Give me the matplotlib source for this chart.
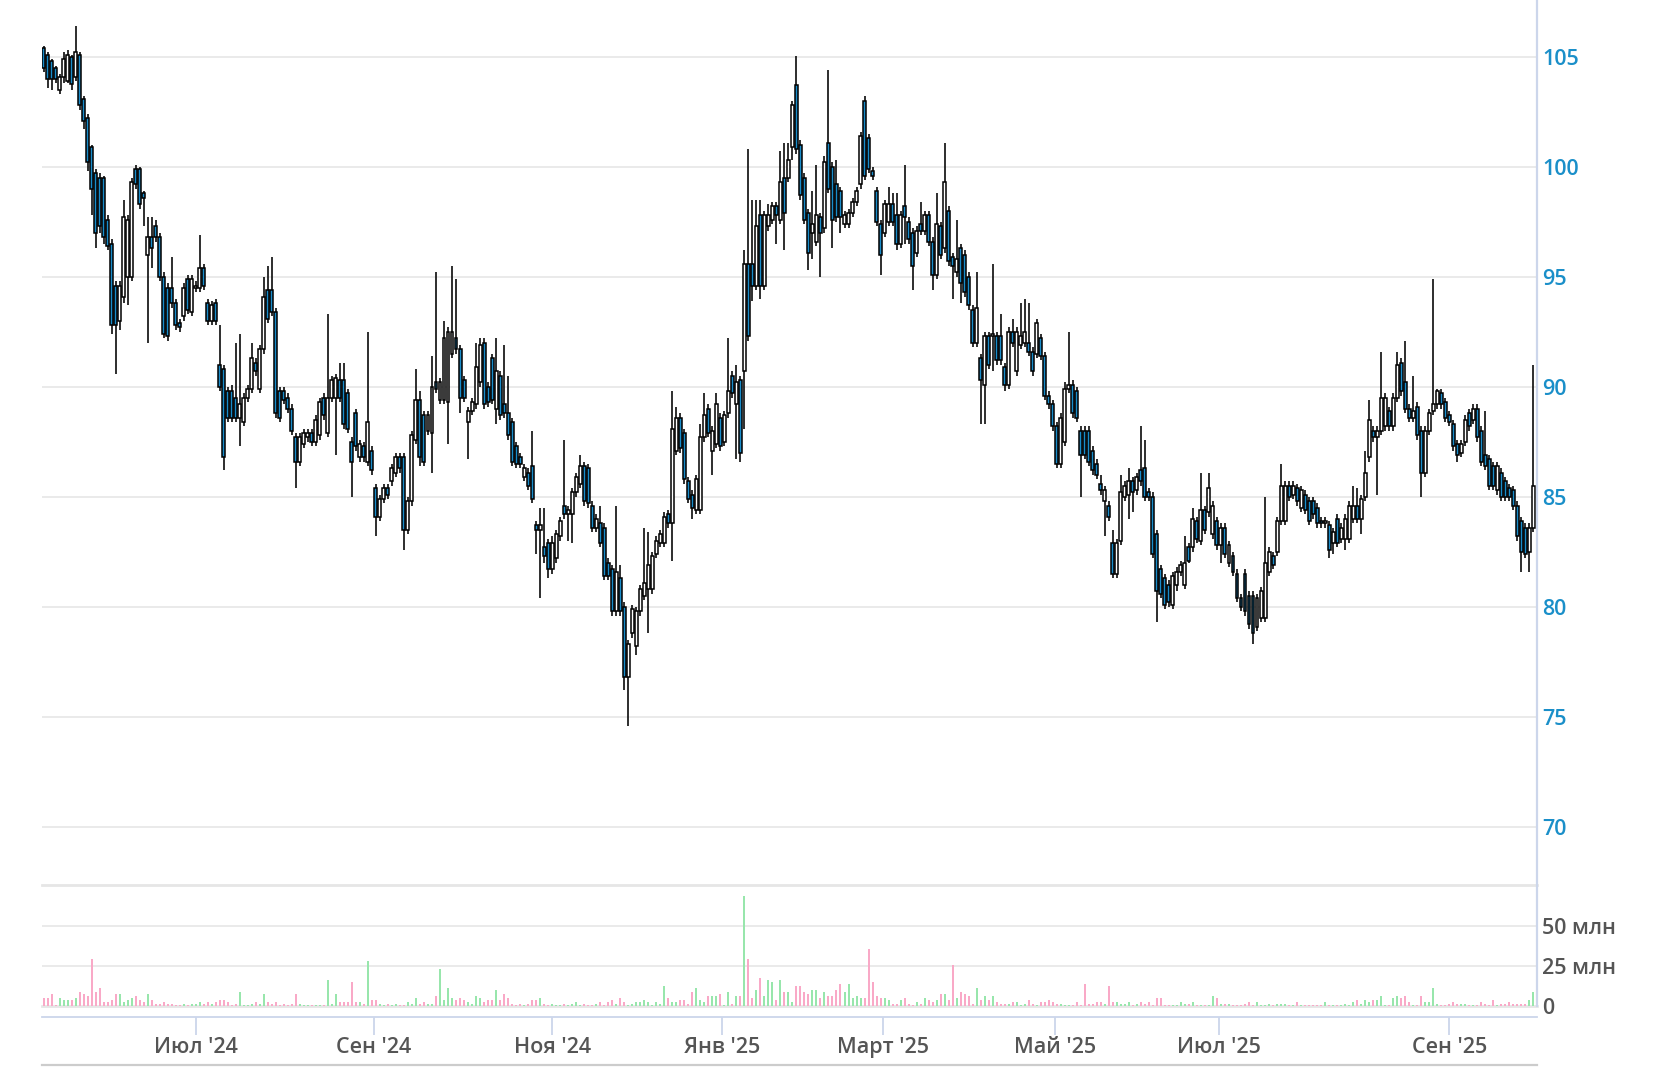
import matplotlib
matplotlib.use("Agg")
import matplotlib.pyplot as plt
from matplotlib.lines import Line2D
import numpy as np

# ---------------- data (one candle per session) ----------------
opens = [
    105.4,105.1,104.8,104.5,103.5,104.1,103.9,105.0,104.1,105.1,
    103.1,102.2,100.9,99.7,99.5,99.5,97.6,96.5,94.6,93.0,
    94.1,95.0,95.0,99.9,99.9,98.8,96.0,96.8,97.3,96.8,
    95.0,94.5,94.5,93.8,92.9,93.2,94.9,93.4,94.5,94.5,
    95.4,93.8,93.0,93.8,91.0,90.8,89.8,89.8,89.5,88.6,
    88.4,89.5,89.9,91.1,89.9,91.7,94.4,94.4,93.4,89.8,
    89.8,89.5,89.0,87.7,86.6,87.4,87.7,87.9,87.5,87.8,
    89.5,87.9,89.5,89.5,90.3,90.3,89.7,87.5,88.8,86.8,
    87.3,86.6,87.1,85.4,84.1,84.9,85.4,85.7,86.1,86.8,
    86.8,83.5,84.8,87.6,89.4,88.7,88.0,87.9,90.2,89.4,
    89.4,89.3,91.5,92.2,91.7,90.3,88.4,88.9,89.2,90.2,
    92.0,90.0,91.3,89.0,90.5,89.2,88.8,88.4,87.3,86.8,
    85.9,86.1,86.4,83.7,83.5,82.7,82.9,81.7,82.2,83.2,
    84.6,84.2,84.2,85.2,85.6,86.4,86.3,84.6,83.6,83.8,
    83.6,82.0,81.7,79.8,81.3,80.0,76.8,78.8,78.2,79.8,
    80.5,80.8,80.8,82.4,82.9,82.9,84.2,83.8,87.1,88.6,
    87.9,85.7,85.1,84.4,84.4,87.7,89.0,87.1,87.4,88.6,
    87.5,88.8,90.5,89.2,90.3,90.7,95.6,95.6,94.6,97.8,
    94.6,97.3,97.6,98.2,97.6,99.5,99.5,100.9,103.7,101.0,
    99.5,97.9,97.0,96.6,97.7,97.2,101.1,100.0,99.2,98.9,
    97.4,97.4,97.9,98.4,99.2,103.0,101.3,99.8,98.9,97.4,
    97.0,97.5,98.3,97.8,96.5,98.2,97.5,97.0,96.1,97.4,
    97.1,97.8,96.6,95.1,97.3,96.3,98.0,95.9,95.2,96.3,
    96.0,95.0,93.5,92.0,91.3,90.1,92.3,92.3,92.3,92.3,
    90.9,90.1,92.5,90.7,91.9,92.0,92.0,91.6,91.5,92.2,
    91.4,89.6,89.2,88.2,86.5,87.5,89.9,90.1,89.8,88.0,
    88.0,88.0,87.1,86.5,85.6,84.8,84.6,82.9,81.5,83.0,
    85.0,85.1,85.7,85.3,86.2,86.3,85.2,85.0,83.3,81.7,
    81.3,81.0,80.1,81.0,81.6,81.0,82.7,82.7,83.9,83.0,
    84.4,84.3,83.3,83.9,82.8,83.6,82.0,82.3,81.5,80.4,
    81.5,80.5,80.5,79.1,79.5,79.5,81.6,82.3,82.5,83.9,
    83.9,85.5,85.1,85.4,84.5,85.1,84.8,84.8,84.5,83.9,
    83.8,83.7,82.9,84.0,83.1,83.1,83.1,84.0,84.6,84.0,
    85.0,86.8,88.0,87.7,88.0,88.2,88.9,88.2,89.5,91.1,
    90.2,89.0,88.6,89.1,88.0,86.1,88.0,88.9,89.2,89.7,
    89.3,88.7,88.3,87.4,87.0,87.5,88.8,88.5,89.0,88.0,
    86.9,86.7,86.4,85.3,86.1,85.7,85.4,85.3,84.6,83.9,
    83.6,82.5,83.6,
]
highs = [
    105.5,105.2,104.9,104.6,104.2,105.2,105.3,105.1,106.4,105.2,
    103.2,102.4,101.0,99.9,99.7,99.6,97.8,96.7,94.8,94.8,
    98.5,97.8,99.5,100.1,100.0,98.9,97.7,97.7,97.6,97.0,
    95.2,94.7,95.9,94.0,93.1,94.7,95.1,95.1,94.8,96.9,
    95.6,94.0,93.9,94.0,92.8,91.0,90.0,90.1,92.0,92.4,
    89.7,90.1,92.0,91.3,91.9,95.0,95.5,95.9,93.6,90.0,
    90.0,89.7,89.2,87.9,87.9,88.1,88.1,88.1,88.7,89.5,
    89.7,93.3,90.5,90.6,91.1,91.1,89.9,87.7,89.0,87.6,
    87.5,92.5,87.3,85.6,85.1,85.6,85.6,86.5,87.0,87.0,
    87.0,85.0,88.0,90.8,89.8,88.9,88.9,91.4,95.2,90.4,
    93.0,92.7,95.5,94.9,91.9,90.5,89.1,89.5,92.0,92.2,
    92.2,90.2,91.5,92.2,90.7,91.9,90.5,88.6,87.5,87.0,
    86.5,86.3,88.0,83.9,84.5,84.5,83.1,83.2,83.5,84.1,
    87.6,84.6,85.4,86.1,86.9,86.6,86.5,84.8,84.2,84.6,
    83.8,82.2,81.9,84.6,81.9,80.2,78.5,80.1,80.0,81.0,
    83.6,83.4,82.5,83.2,83.5,84.3,84.4,89.8,89.1,88.8,
    88.1,85.9,85.3,86.0,88.3,89.7,89.2,88.2,89.7,88.8,
    88.9,92.2,90.7,91.0,90.5,96.2,100.8,98.5,98.5,98.5,
    98.0,98.3,98.4,98.4,100.7,101.1,101.1,103.0,105.05,101.2,
    99.7,98.1,98.9,100.1,97.9,100.5,104.4,100.2,100.3,99.1,
    98.0,98.1,98.6,99.1,101.6,103.2,101.5,100.0,99.1,97.6,
    98.5,99.1,98.8,98.8,98.0,100.1,97.7,97.2,97.3,98.4,
    98.0,98.0,96.8,98.8,97.5,101.1,98.2,96.1,97.6,96.5,
    96.2,95.2,93.7,95.2,91.5,92.5,92.5,95.6,92.5,93.3,
    91.1,92.7,93.1,92.7,93.8,94.0,93.8,91.8,93.1,92.4,
    91.6,89.8,89.4,88.4,88.8,90.2,92.5,90.3,90.0,88.2,
    88.2,88.2,87.3,86.7,86.0,85.5,84.8,83.5,83.1,86.0,
    85.7,86.3,85.9,86.1,88.2,87.6,85.4,85.2,83.5,81.9,
    81.5,81.2,81.6,81.8,82.1,83.2,82.9,84.5,84.1,86.1,
    84.6,86.1,84.8,84.1,83.8,83.8,83.0,82.5,81.7,80.6,
    81.7,80.7,80.7,80.6,80.9,85.0,82.7,82.5,84.1,86.5,
    85.7,85.7,85.7,85.6,85.5,85.3,85.0,85.0,84.7,84.1,
    84.1,83.9,83.6,84.2,83.8,84.2,84.8,85.5,85.4,85.1,
    87.1,89.4,88.2,88.2,91.6,89.7,89.1,89.7,91.6,91.3,
    92.1,89.2,90.5,89.3,88.2,88.2,89.0,94.9,89.9,89.9,
    89.5,88.9,88.5,87.6,87.6,88.7,89.0,89.2,89.2,88.2,
    88.9,86.9,86.6,86.6,86.3,85.9,85.6,85.5,84.8,84.1,
    83.8,83.8,91.0,
]
lows = [
    104.3,103.6,103.5,103.8,103.3,103.8,103.8,103.5,103.9,102.6,
    101.7,99.8,97.8,96.3,97.0,96.5,96.2,92.4,90.6,92.6,
    93.8,93.7,94.8,99.0,98.1,97.3,92.0,95.4,96.6,94.8,
    92.2,92.1,93.6,92.6,92.5,93.0,93.3,93.2,94.3,94.3,
    94.4,92.8,92.8,92.8,89.8,86.2,88.4,88.4,88.4,87.3,
    88.2,89.3,89.7,90.5,89.7,91.5,92.9,93.2,88.6,88.4,
    89.2,88.8,87.8,85.4,86.4,87.2,87.5,87.3,87.3,87.6,
    88.5,87.7,89.3,86.9,89.3,88.1,87.9,85.0,87.1,86.6,
    86.6,86.4,86.0,83.2,83.9,84.7,84.9,85.5,85.9,86.1,
    82.6,83.3,84.6,87.4,86.4,86.4,87.8,86.1,89.7,89.2,
    89.2,87.4,91.3,91.5,88.8,89.3,86.7,88.7,89.0,90.0,
    89.0,89.1,89.2,88.3,88.5,88.6,87.6,86.4,86.3,86.3,
    85.7,85.3,84.7,82.4,80.4,82.0,81.3,81.5,82.0,83.0,
    84.0,83.0,82.9,85.0,85.4,84.6,84.5,83.4,83.4,82.7,
    81.2,81.2,79.6,79.6,79.6,76.2,74.6,78.6,77.8,79.6,
    80.3,78.8,80.6,82.2,82.7,82.7,83.6,82.1,86.9,87.0,
    85.6,84.7,84.0,84.2,84.2,87.5,87.7,86.0,87.2,87.1,
    87.3,88.6,89.5,86.7,86.6,88.1,92.1,93.9,94.4,94.0,
    94.4,97.1,97.4,96.5,97.4,96.2,99.3,100.3,100.6,98.5,
    97.4,95.3,95.8,96.4,95.0,97.0,98.8,96.3,97.5,97.0,
    97.2,97.2,97.7,98.2,99.0,99.4,99.7,99.4,97.3,95.1,
    96.8,97.3,97.3,96.2,96.3,96.5,96.5,94.4,95.9,96.9,
    96.9,96.4,94.4,94.9,95.8,96.1,95.5,94.0,95.0,93.8,
    94.1,93.5,91.8,91.8,88.3,88.3,90.8,90.7,91.0,91.0,
    89.8,89.9,91.8,90.5,91.7,91.8,91.4,90.5,91.3,91.2,
    89.4,89.0,88.0,86.3,86.3,87.3,89.7,88.6,88.4,85.0,
    86.7,86.4,86.0,85.8,85.1,83.2,83.9,81.3,81.3,82.8,
    84.8,84.0,84.3,85.1,85.5,84.8,84.8,82.2,79.3,80.4,
    79.9,80.0,79.9,80.7,81.4,80.8,82.0,82.5,82.9,82.8,
    83.3,84.1,83.1,82.6,82.0,82.2,81.8,81.4,80.2,79.8,
    79.6,79.0,78.3,78.9,79.3,79.3,81.4,81.7,82.3,83.7,
    83.7,84.8,84.9,84.6,84.3,84.2,83.7,84.0,83.6,83.6,
    83.6,82.2,82.4,82.7,82.9,82.6,82.9,83.8,83.8,83.3,
    84.8,86.6,87.5,85.1,87.8,88.0,88.0,88.0,89.3,89.6,
    88.8,88.4,88.4,87.6,85.0,85.9,87.8,88.7,89.0,89.0,
    88.4,88.2,87.1,86.6,86.8,87.3,88.0,88.3,87.5,86.4,
    86.2,85.3,85.3,85.1,84.8,84.8,84.8,84.4,83.0,81.6,
    82.2,81.6,83.4,
]
closes = [
    104.5,104.0,104.0,104.0,104.1,104.9,105.1,103.75,105.2,102.8,
    102.1,100.2,99.0,97.0,97.3,96.8,96.4,92.8,92.8,94.6,
    97.7,97.6,99.3,99.2,98.3,98.6,96.8,96.3,96.8,95.0,
    92.4,92.3,93.8,92.8,92.7,94.5,93.5,94.9,94.6,95.4,
    94.6,93.0,93.7,93.0,90.0,86.8,88.6,88.6,88.6,89.2,
    89.5,89.9,91.3,90.7,91.7,94.1,93.1,93.4,88.8,88.6,
    89.4,89.0,88.0,86.6,87.7,87.9,87.9,87.5,88.5,89.3,
    88.7,89.5,90.3,90.4,89.5,88.3,88.1,86.6,87.3,87.4,
    86.8,88.4,86.2,84.1,84.9,85.4,85.1,86.3,86.8,86.3,
    83.5,84.8,87.8,89.4,86.8,86.6,88.7,90.0,89.9,90.2,
    92.2,92.5,92.5,91.7,89.5,89.5,88.9,89.3,90.9,91.9,
    89.2,89.3,89.4,90.7,88.7,88.8,87.8,86.6,86.5,86.5,
    86.3,85.5,84.9,83.5,83.7,82.3,81.7,82.9,83.3,83.9,
    84.2,84.4,85.2,85.9,86.4,84.8,84.7,83.6,84.0,82.9,
    81.4,81.4,79.8,81.6,79.8,76.8,78.3,79.9,79.8,80.8,
    81.1,81.9,82.3,83.0,83.3,84.1,83.8,88.1,88.6,87.2,
    85.8,84.9,84.5,85.8,87.7,88.7,87.9,88.0,89.2,87.3,
    88.7,89.8,89.7,90.2,87.0,95.6,92.3,94.6,97.3,94.6,
    97.8,97.8,98.2,97.8,99.3,97.9,100.3,102.8,100.8,98.7,
    97.6,96.1,97.4,97.8,97.0,100.2,99.0,97.6,97.7,97.7,
    97.8,97.9,98.4,98.9,101.4,99.6,99.9,99.6,97.5,96.0,
    98.3,98.3,97.5,96.5,97.8,97.7,96.7,95.5,97.1,97.1,
    97.8,96.6,95.1,97.4,96.0,99.3,95.7,95.5,95.8,94.7,
    94.3,93.7,92.0,93.6,90.3,92.3,91.0,92.4,91.2,91.2,
    90.1,92.5,92.0,92.5,92.3,92.5,91.6,90.7,92.9,91.4,
    89.6,89.2,88.2,86.5,88.6,89.9,90.1,88.8,88.6,86.9,
    86.9,86.6,86.2,86.0,85.3,85.3,84.1,81.5,82.9,85.2,
    85.5,85.7,85.2,85.9,85.7,85.0,85.0,82.4,80.7,80.6,
    80.1,80.2,81.4,81.6,81.9,82.0,82.1,84.0,83.1,84.4,
    83.5,85.4,84.6,82.8,83.6,82.4,82.8,81.6,80.4,80.0,
    79.8,79.2,78.8,80.4,80.7,82.0,82.5,81.9,83.9,85.5,
    85.5,85.0,85.5,84.8,85.3,84.4,83.9,84.2,83.8,83.8,
    83.9,82.6,83.4,82.9,83.6,84.0,84.6,84.6,84.0,84.9,
    86.1,88.5,87.7,88.0,89.5,89.5,88.2,89.5,91.0,89.8,
    89.0,88.6,88.9,87.8,86.1,88.0,88.8,89.2,89.8,89.2,
    88.6,88.4,87.3,86.9,87.4,88.5,88.2,89.0,87.7,86.6,
    86.4,85.5,85.5,86.4,85.0,85.0,85.0,84.6,83.2,82.5,
    82.4,83.6,85.5,
]
# volume, millions of shares
volumes = [
    4.9,4.9,7.6,0.4,4.9,3.8,3.8,3.8,4.9,8.9,
    7.6,6.4,29.2,8.9,11.4,2.5,2.5,3.8,7.6,7.6,
    2.5,3.8,5.0,6.4,3.8,2.5,7.6,3.8,1.3,1.3,
    2.5,1.3,1.3,0.4,0.4,1.3,0.4,1.3,1.3,2.5,
    1.3,2.5,1.3,2.5,3.8,3.8,2.5,0.4,1.3,8.9,
    0.4,0.4,1.3,2.5,1.3,7.6,2.5,1.3,2.5,0.4,
    1.3,0.4,1.3,7.6,1.3,0.4,0.4,0.4,0.4,0.4,
    0.4,16.5,1.3,7.6,2.5,2.5,2.5,15.3,2.5,2.5,
    1.3,28.0,3.8,3.8,1.3,0.4,1.3,0.4,1.3,0.4,
    0.4,2.5,1.3,5.0,1.3,2.5,1.3,1.3,6.4,22.9,
    3.8,11.4,5.0,3.8,5.0,3.8,2.5,1.3,6.4,5.0,
    2.5,3.8,3.8,10.2,3.8,7.6,5.0,1.3,0.4,1.3,
    0.4,1.3,3.8,3.8,5.0,1.3,0.4,1.3,0.4,0.4,
    1.3,0.4,1.3,2.5,0.4,1.3,0.4,0.4,1.3,2.5,
    0.4,2.5,3.8,1.3,5.0,2.5,0.4,1.3,2.5,2.5,
    3.8,2.5,0.4,2.5,1.3,12.7,5.0,2.5,2.5,3.8,
    3.8,1.3,8.9,11.4,3.8,2.5,6.4,6.4,6.4,7.6,
    0.4,8.9,1.3,6.4,6.4,68.6,29.2,5.0,10.2,17.8,
    6.4,16.5,15.3,3.8,16.5,8.9,8.9,2.5,12.7,12.7,
    8.9,7.6,10.2,10.2,5.0,8.9,6.4,6.4,10.2,14.0,
    8.9,14.0,5.0,6.4,5.0,5.0,35.6,15.3,6.4,5.0,
    5.0,3.8,1.3,1.3,3.8,5.0,1.3,0.4,2.5,1.3,
    5.0,3.8,2.5,3.8,7.6,7.6,3.8,25.4,5.0,8.9,
    7.6,6.4,1.3,11.4,3.8,6.4,3.8,6.4,2.5,1.3,
    1.3,1.3,2.5,2.5,0.4,1.3,3.8,1.3,0.4,2.5,
    2.5,3.8,2.5,1.3,1.3,0.4,0.4,0.4,2.5,0.4,
    14.0,1.3,1.3,2.5,2.5,1.3,12.7,2.5,2.5,1.3,
    1.3,2.5,0.4,1.3,2.5,1.3,2.5,0.4,5.0,5.0,
    0.4,0.4,0.4,0.4,2.5,1.3,1.3,2.5,0.4,0.4,
    0.4,0.4,6.4,5.0,1.3,1.3,1.3,0.4,0.4,0.4,
    1.3,2.5,0.4,2.5,0.4,0.4,1.3,0.4,1.3,1.3,
    1.3,0.4,0.4,2.5,0.4,0.4,0.4,0.4,0.4,0.4,
    2.5,0.4,0.4,0.4,0.4,1.3,0.4,2.5,3.8,1.3,
    3.8,2.5,3.8,3.8,6.4,0.4,0.4,5.0,6.4,5.0,
    6.4,2.5,0.4,0.4,6.4,2.5,2.5,11.4,1.3,0.4,
    0.4,1.3,2.5,1.3,1.3,1.3,0.4,0.4,0.4,2.5,
    1.3,0.4,3.8,0.4,1.3,1.3,2.5,1.3,1.3,1.3,
    1.3,3.8,8.8,
]
month_labels = ["Июл '24", "Сен '24", "Ноя '24", "Янв '25", "Март '25", "Май '25", "Июл '25", "Сен '25"]
month_pos = [38, 82.5, 127, 169.5, 209.5, 252.5, 293.5, 351]   # session index of 1st day
price_ticks = [70, 75, 80, 85, 90, 95, 100, 105]
vol_ticks = [0, 25, 50]
vol_tick_labels = ["0", "25 млн", "50 млн"]

# ---------------- styling ----------------
W, H = 1663, 1067
FONT = ["Open Sans", "DejaVu Sans"]
plt.rcParams["font.family"] = FONT
GRID = "#e6e6e6"
AXISC = "#ccd6eb"
UPF, DNF = "#ffffff", "#1a8cc9"
VUP, VDN = "#98e6ac", "#f9a9c7"
PRICE_TXT = "#1a8fc9"
GRAY_TXT = "#555555"

n = len(closes)
assert len(opens) == len(highs) == len(lows) == n == len(volumes)
x = np.arange(n)
o = np.array(opens); c = np.array(closes)
h = np.maximum(np.array(highs), np.maximum(o, c))
l = np.minimum(np.array(lows), np.minimum(o, c))
up = c >= o

fig = plt.figure(figsize=(W / 100, H / 100), dpi=100)
fig.patch.set_facecolor("white")

def rect(x0, y0, x1, y1):
    return [x0 / W, 1 - y1 / H, (x1 - x0) / W, (y1 - y0) / H]

X0, X1 = 42, 1537
xlo = -0.375
xhi = xlo + (X1 - X0) / 4.005

# ---- price panel ----
PTOP, PBOT = 0, 833.6
axp = fig.add_axes(rect(X0, PTOP, X1, PBOT))
px_per_unit = 22.0
y105 = 56.7
axp.set_ylim(105 - (PBOT - y105) / px_per_unit, 105 + (y105 - PTOP) / px_per_unit)
axp.set_xlim(xlo, xhi)
for s in axp.spines.values():
    s.set_visible(False)
for v in price_ticks:
    axp.axhline(v, color=GRID, lw=1.2, zorder=0)
axp.vlines(x, l, h, color="black", lw=1.15, zorder=2)
bot = np.minimum(o, c)
hgt = np.abs(c - o)
axp.bar(x, hgt, bottom=bot, width=0.74, color=np.where(up, UPF, DNF),
        edgecolor="black", linewidth=1.1, zorder=3)
axp.yaxis.tick_right()
axp.set_yticks(price_ticks)
axp.set_yticklabels([str(v) for v in price_ticks])
axp.tick_params(axis="y", length=0, pad=3.5, labelsize=15.5, labelcolor=PRICE_TXT)
axp.set_xticks([])
for t in axp.get_yticklabels():
    t.set_fontweight("semibold")

# ---- volume panel ----
VTOP, VBOT = 885, 1006
axv = fig.add_axes(rect(X0, VTOP, X1, VBOT))
vmax = 25 * (VBOT - VTOP) / 40.0
axv.set_ylim(0, vmax)
axv.set_xlim(xlo, xhi)
for s in ["top", "left", "right"]:
    axv.spines[s].set_visible(False)
for v in [25, 50]:
    axv.axhline(v, color=GRID, lw=1.2, zorder=0)
axv.axhline(vmax, color=GRID, lw=2.0, zorder=0, clip_on=False)
axv.axhline(0, color=GRID, lw=2.0, zorder=0, clip_on=False)
axv.bar(x, volumes, width=0.5, color=np.where(up, VUP, VDN), linewidth=0, zorder=2)
axv.yaxis.tick_right()
axv.set_yticks(vol_ticks)
axv.set_yticklabels(vol_tick_labels)
axv.tick_params(axis="y", length=0, pad=3.5, labelsize=15.5, labelcolor=GRAY_TXT)
for t in axv.get_yticklabels():
    t.set_fontweight("semibold")
# x axis line below the volume panel
axv.spines["bottom"].set_position(("outward", 7.7))
axv.spines["bottom"].set_color(AXISC)
axv.spines["bottom"].set_linewidth(1.3)
axv.set_xticks(month_pos)
axv.set_xticklabels(month_labels)
axv.tick_params(axis="x", direction="out", length=13.2, width=1.3, color=AXISC,
                pad=1.5, labelsize=15.5, labelcolor=GRAY_TXT)
for t in axv.get_xticklabels():
    t.set_fontweight("semibold")

# right-hand vertical axis line and bottom rule
fig.add_artist(Line2D([X1 / W, X1 / W], [1.0, 1 - VBOT / H], color=AXISC, lw=1.6))
fig.add_artist(Line2D([X0 / W, X1 / W], [1 - 1065 / H, 1 - 1065 / H], color="#cccccc", lw=1.6))

fig.savefig("out.png", dpi=100, facecolor="white")
